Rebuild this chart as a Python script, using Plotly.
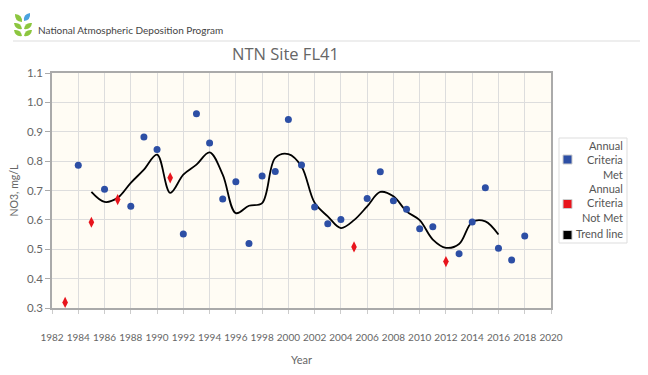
import plotly.graph_objects as go

# ---- data ----
met_years = [1984, 1986, 1988, 1989, 1990, 1992, 1993, 1994, 1995, 1996, 1997, 1998, 1999, 2000, 2001,
             2002, 2003, 2004, 2006, 2007, 2008, 2009, 2010, 2011, 2013, 2014, 2015, 2016, 2017, 2018]
met_values = [0.786, 0.704, 0.646, 0.882, 0.840, 0.552, 0.961, 0.862, 0.671, 0.730, 0.520, 0.749, 0.765, 0.942, 0.787,
              0.644, 0.587, 0.601, 0.673, 0.764, 0.665, 0.636, 0.570, 0.577, 0.485, 0.593, 0.709, 0.503, 0.463, 0.545]

notmet_years = [1983, 1985, 1987, 1991, 2005, 2012]
notmet_values = [0.319, 0.592, 0.669, 0.743, 0.508, 0.458]

trend_years = list(range(1985, 2017))
trend_values = [0.695, 0.661, 0.675, 0.726, 0.771, 0.822, 0.692, 0.754, 0.788, 0.830, 0.754, 0.623,
                0.648, 0.657, 0.811, 0.824, 0.782, 0.658, 0.612, 0.572, 0.599, 0.646, 0.695, 0.680,
                0.629, 0.599, 0.533, 0.505, 0.518, 0.593, 0.595, 0.550]

x_ticks = list(range(1982, 2021, 2))
y_ticks = [0.3, 0.4, 0.5, 0.6, 0.7, 0.8, 0.9, 1.0, 1.1]

legend_labels = ["Annual<br>Criteria<br>Met", "Annual<br>Criteria<br>Not Met", "Trend line"]
legend_colors = ["#2d4fa5", "#e8141c", "#000000"]

# ---- layout geometry (window pixels; page body has an 8px margin) ----
OFF = 8
W, H = 648 - OFF, 375 - OFF
L, R, T, B = 52, 551, 73, 308
FONT = "Lato, Open Sans, DejaVu Sans, sans-serif"


def px(x):
    return (x - L) / (R - L)


def py(y):
    return (B - y) / (B - T)


def leaf(cx, cy, dx, dy, color):
    x0, y0 = cx, cy
    x1, y1 = cx + dx, cy + dy
    mx, my = (x0 + x1) / 2, (y0 + y1) / 2
    nx, ny = -dy * 0.5, dx * 0.5
    path = (f"M {px(x0)},{py(y0)} Q {px(mx + nx)},{py(my + ny)} {px(x1)},{py(y1)} "
            f"Q {px(mx - nx)},{py(my - ny)} {px(x0)},{py(y0)} Z")
    return dict(type="path", xref="paper", yref="paper", path=path, fillcolor=color, line=dict(width=0))


fig = go.Figure()

fig.add_trace(go.Scatter(
    x=trend_years, y=trend_values, mode="lines", line=dict(color="black", width=1.8, shape="spline"),
    name="Trend line", hoverinfo="x+y"))
fig.add_trace(go.Scatter(
    x=met_years, y=met_values, mode="markers",
    marker=dict(color=legend_colors[0], size=7, symbol="circle"), name="Annual Criteria Met"))
fig.add_trace(go.Scatter(
    x=notmet_years, y=notmet_values, mode="markers",
    marker=dict(color=legend_colors[1], size=8, symbol="diamond-tall"), name="Annual Criteria Not Met"))

shapes = []
annotations = []

# header line
shapes.append(dict(type="line", xref="paper", yref="paper", x0=px(13), x1=px(648), y0=py(41), y1=py(41),
                   line=dict(color="#dddddd", width=1)))

# logo leaves
green, blue = "#8cc63f", "#4aa3df"
shapes += [
    leaf(22, 22, -7, -8, green), leaf(24, 21, 6, -8, blue),
    leaf(22, 29, -8, -6, green), leaf(24, 29, 8, -6, green),
    leaf(22, 36, -8, -6, green), leaf(24, 36, 8, -6, green),
]

annotations.append(dict(text="National Atmospheric Deposition Program", xref="paper", yref="paper",
                        x=px(36), y=py(30), xanchor="left", yanchor="middle", showarrow=False,
                        font=dict(family=FONT, size=10, color="#444444")))
annotations.append(dict(text="NTN Site FL41", xref="paper", yref="paper",
                        x=px(285), y=py(53), xanchor="center", yanchor="middle", showarrow=False,
                        font=dict(family="Open Sans, sans-serif", size=16.5, color="#666666")))
annotations.append(dict(text="Year", xref="paper", yref="paper",
                        x=px(301.5), y=py(359), xanchor="center", yanchor="middle", showarrow=False,
                        font=dict(family=FONT, size=11, color="#666666")))

# custom legend
shapes.append(dict(type="rect", xref="paper", yref="paper", x0=px(559), x1=px(627), y0=py(243), y1=py(138),
                   line=dict(color="#dddddd", width=1), fillcolor="white"))
legend_sq_y = [159.5, 204, 235]
legend_txt_y = [160, 203, 233]
for lab, col, sy, ty in zip(legend_labels, legend_colors, legend_sq_y, legend_txt_y):
    shapes.append(dict(type="rect", xref="paper", yref="paper", x0=px(563), x1=px(572), y0=py(sy + 4.5),
                       y1=py(sy - 4.5), fillcolor=col, line=dict(color="#cccccc", width=1)))
    annotations.append(dict(text=lab, xref="paper", yref="paper", x=px(625), y=py(ty), xanchor="right",
                            yanchor="middle", align="right", showarrow=False,
                            font=dict(family=FONT, size=11, color="#555555")))

fig.update_layout(
    width=W, height=H,
    margin=dict(l=L - OFF, r=648 - R, t=T - OFF, b=375 - B, pad=0, autoexpand=False),
    paper_bgcolor="white", plot_bgcolor="#fffcf4",
    showlegend=False, shapes=shapes, annotations=annotations,
    font=dict(family=FONT, color="#666666", size=11),
)
fig.update_xaxes(
    range=[1982, 2020], tickvals=x_ticks, ticktext=[str(v) for v in x_ticks], tickangle=0,
    showgrid=True, gridcolor="#dddddd", gridwidth=1,
    showline=True, linecolor="#aaaaaa", linewidth=1.5, mirror=True,
    ticks="outside", ticklen=4, tickcolor="#cccccc", ticklabelstandoff=15,
    tickfont=dict(size=10, color="#666666"),
    zeroline=False, automargin=False,
)
fig.update_yaxes(
    range=[0.3, 1.1], tickvals=y_ticks, ticktext=[f"{v:.1f}" for v in y_ticks],
    showgrid=True, gridcolor="#dddddd", gridwidth=1,
    showline=True, linecolor="#aaaaaa", linewidth=1.5, mirror=True,
    ticks="outside", ticklen=5, tickcolor="#aaaaaa",
    tickfont=dict(size=11.5, color="#666666"),
    title=dict(text="NO3, mg/L", font=dict(size=10.5, color="#666666"), standoff=10),
    zeroline=False, automargin=False,
)

fig.write_html("out.html")
